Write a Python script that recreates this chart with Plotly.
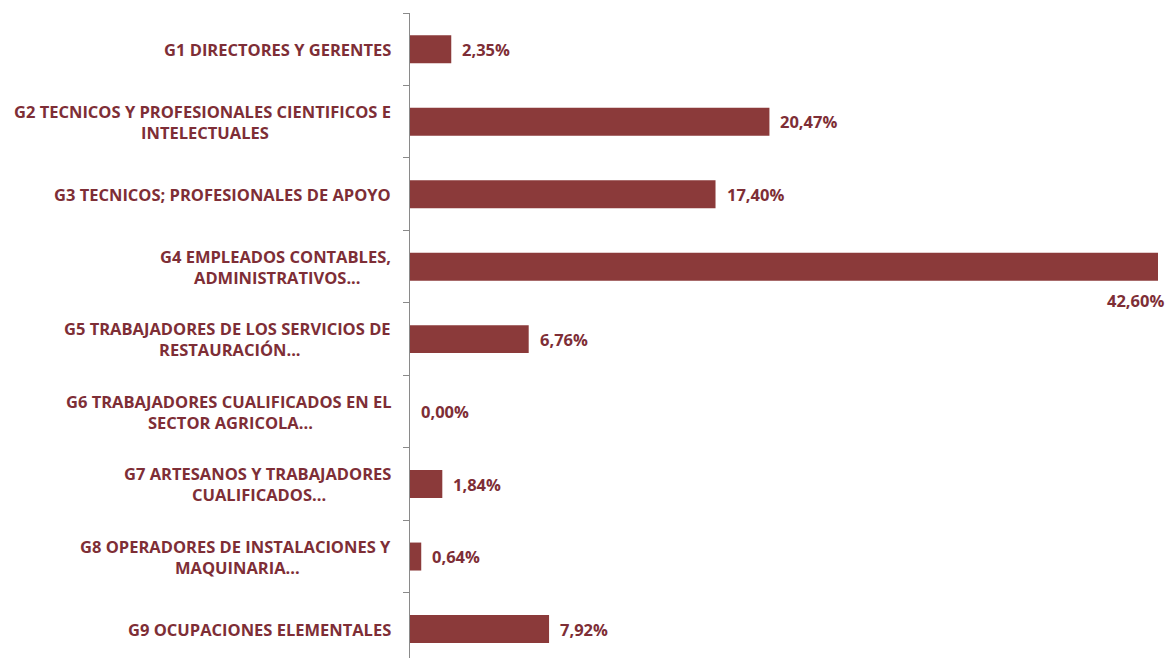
import plotly.graph_objects as go

categories = [
    "G1 DIRECTORES Y GERENTES",
    "G2 TECNICOS Y PROFESIONALES CIENTIFICOS E<br>INTELECTUALES",
    "G3 TECNICOS; PROFESIONALES DE APOYO",
    "G4 EMPLEADOS CONTABLES,<br>ADMINISTRATIVOS...",
    "G5 TRABAJADORES DE LOS SERVICIOS DE<br>RESTAURACIÓN...",
    "G6 TRABAJADORES CUALIFICADOS EN EL<br>SECTOR AGRICOLA...",
    "G7 ARTESANOS Y TRABAJADORES<br>CUALIFICADOS...",
    "G8 OPERADORES DE INSTALACIONES Y<br>MAQUINARIA...",
    "G9 OCUPACIONES ELEMENTALES",
]
values = [2.35, 20.47, 17.40, 42.60, 6.76, 0.00, 1.84, 0.64, 7.92]
value_labels = ["2,35%", "20,47%", "17,40%", "42,60%", "6,76%", "0,00%", "1,84%", "0,64%", "7,92%"]

BAR = "#8B3A3A"
TXT = "#7E2E36"
FONT = "Open Sans"
FS = 16.5
LINE_H = 21

cat_ids = [c.split(" ")[0] for c in categories]

fig = go.Figure(go.Bar(
    x=values, y=cat_ids, orientation="h",
    marker=dict(color=BAR, line=dict(width=0)),
    hoverinfo="skip",
))

annotations = []
xmax = max(values)
for cid, cat, v, lab in zip(cat_ids, categories, values, value_labels):
    lines = cat.split("<br>")
    n = len(lines)
    # first line is right-aligned to the axis; the others get centred on it after render
    for i, ln in enumerate(lines):
        annotations.append(dict(
            x=0, y=cid, xref="x", yref="y", text=ln, showarrow=False,
            xanchor="center" if i > 0 else "right", yanchor="middle",
            xshift=-17, yshift=-(i - (n - 1) / 2) * LINE_H,
            font=dict(family=FONT, size=FS, color=TXT, weight="bold"),
            name=f"{cid}-{i}",
        ))
    if v >= xmax:
        annotations.append(dict(
            x=v, y=cid, xref="x", yref="y", text=lab, showarrow=False,
            xanchor="right", yanchor="middle", xshift=8, yshift=-34,
            font=dict(family=FONT, size=FS, color=TXT, weight="bold"),
        ))
    else:
        annotations.append(dict(
            x=v, y=cid, xref="x", yref="y", text=lab, showarrow=False,
            xanchor="left", yanchor="middle", xshift=9,
            font=dict(family=FONT, size=FS, color=TXT, weight="bold"),
        ))

fig.update_layout(
    width=1168, height=658,
    margin=dict(l=410, r=10, t=13, b=0),
    paper_bgcolor="white", plot_bgcolor="white",
    bargap=0.614,
    showlegend=False,
    xaxis=dict(range=[0, xmax], visible=False, fixedrange=True),
    yaxis=dict(
        type="category", categoryorder="array", categoryarray=cat_ids,
        range=[8.4, -0.5], showticklabels=False,
        showline=True, linecolor="#8a8a8a", linewidth=1,
        ticks="outside", tickson="boundaries", ticklen=6, tickcolor="#8a8a8a",
        showgrid=False, zeroline=False, fixedrange=True,
    ),
)

post = """
document.body.style.margin='0px';document.body.style.overflow='hidden';
var gd=document.querySelector('.plotly-graph-div');
var anns=gd.layout.annotations, upd={};
var nodes=gd.querySelectorAll('.annotation');
var widths={};
nodes.forEach(function(nd){
  var idx=+nd.getAttribute('data-index');
  var bb=nd.querySelector('.annotation-text').getBBox();
  widths[idx]=bb.width;
});
var firstW={};
anns.forEach(function(a,i){ if(a.name && a.name.endsWith('-0')) firstW[a.name.split('-')[0]]=widths[i]; });
anns.forEach(function(a,i){
  if(a.name && !a.name.endsWith('-0')){
    var w=firstW[a.name.split('-')[0]];
    upd['annotations['+i+'].xshift']=-17 - w/2;
  }
});
Plotly.relayout(gd,upd);
"""

fig.update_layout(annotations=annotations)
fig.write_html("out.html", post_script=post, config={"displayModeBar": False, "staticPlot": True})
